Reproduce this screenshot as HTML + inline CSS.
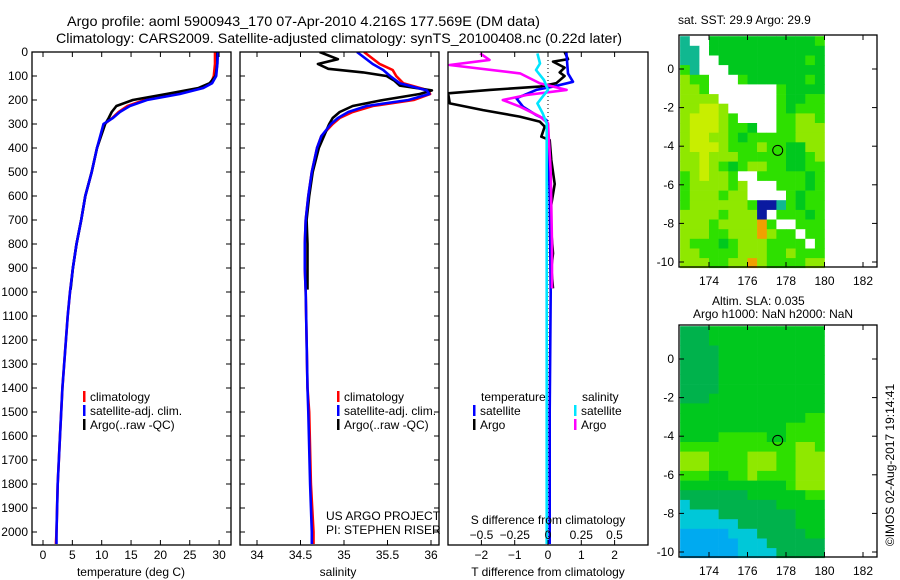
<!DOCTYPE html>
<html><head><meta charset="utf-8"><style>
body{margin:0;background:#fff;}
svg{display:block;font-family:"Liberation Sans",sans-serif;}
text{fill:#000;}
</style></head><body>
<svg id="fig" width="900" height="580" viewBox="0 0 900 580" xmlns="http://www.w3.org/2000/svg">
<text x="67" y="26" font-size="14" textLength="473" lengthAdjust="spacingAndGlyphs">Argo profile: aoml 5900943_170 07-Apr-2010 4.216S 177.569E (DM data)</text>
<text x="56" y="43" font-size="14" textLength="566" lengthAdjust="spacingAndGlyphs">Climatology: CARS2009. Satellite-adjusted climatology: synTS_20100408.nc (0.22d later)</text>
<g id="p1"></g>
<g id="p2"></g>
<g id="p3"></g>
<g id="m1"></g>
<g id="m2"></g>
<text x="678" y="24" font-size="12">sat. SST: 29.9 Argo: 29.9</text>
<text x="712" y="305" font-size="12">Altim. SLA: 0.035</text>
<text x="693" y="318" font-size="12">Argo h1000: NaN h2000: NaN</text>
<text transform="translate(894,465) rotate(-90)" text-anchor="middle" font-size="12">©IMOS 02-Aug-2017 19:14:41</text>
</svg>
<script>
// ---- data ----
const tClimDepth=[0,50,100,130,150,175,200,225,250,275,300,400,500,600,700,800,900,1000,1100,1400,1600,1800,2000,2050];
const tClimVal=[29.3,29.3,29.1,28.6,27.0,22.8,17.3,14.4,12.9,11.8,10.5,9.2,8.3,7.2,6.5,5.7,5.1,4.6,4.2,3.3,2.9,2.5,2.3,2.2];
const tSatVal=[29.8,29.7,29.5,28.8,27.3,23.3,17.7,14.8,13.1,11.9,10.3,9.2,8.3,7.2,6.5,5.7,5.1,4.6,4.2,3.3,2.9,2.5,2.3,2.3];
const tArgoDepth=[0,50,100,130,150,175,200,225,250,275,300,400,500,600,700,800,900,990];
const tArgoVal=[29.7,29.7,29.4,28.4,26.5,21.0,15.3,12.5,11.7,11.2,10.6,9.2,8.3,7.2,6.5,5.7,5.1,4.7];
const sClimDepth=[0,50,75,100,130,160,175,200,225,250,275,300,350,400,500,600,700,800,900,1000,1400,1500,1800,2000,2050];
const sClimVal=[35.23,35.41,35.56,35.6,35.68,35.97,35.99,35.8,35.33,35.1,34.95,34.87,34.74,34.69,34.63,34.59,34.56,34.55,34.55,34.56,34.58,34.6,34.62,34.65,34.65];
const sSatVal=[35.15,35.33,35.45,35.53,35.64,35.95,35.98,35.74,35.26,35.05,34.93,34.85,34.74,34.69,34.63,34.59,34.56,34.55,34.55,34.56,34.58,34.59,34.61,34.63,34.63];
const sArgoDepth=[0,30,50,70,85,100,120,140,160,175,200,225,250,275,300,400,500,600,700,800,990];
const sArgoVal=[34.72,34.93,34.7,34.82,35.22,35.49,35.58,35.64,36.01,35.87,35.45,35.1,34.95,34.87,34.83,34.71,34.64,34.6,34.57,34.58,34.58];
const dTArgoDepth=[0,30,40,65,85,100,130,144,158,172,214,242,269,290,311,353,367,450,550,650,750,839,900,985];
const dTArgoVal=[0.5,0.6,0.15,0.5,0.35,0.5,0.25,-0.25,-1.75,-3,-2.95,-1.95,-0.85,-0.25,-0.1,-0.2,0.05,0.1,0.2,0.08,0.1,0.15,0.1,0.15];
const dTSatDepth=[0,89,124,144,158,193,228,263,283,304,600,1000,1500,2050];
const dTSatVal=[0.55,0.6,0.75,0.15,-0.35,-0.95,-0.75,-0.35,-0.05,0.0,0.05,0.08,0.05,0.05];
const dSArgoDepth=[6,33,54,89,131,158,179,200,228,269,297,500,800,985];
const dSArgoVal=[-0.51,-0.44,-0.74,-0.21,-0.06,0.14,-0.16,-0.34,-0.21,-0.06,0.0,0.02,0.03,0.03];
const dSSatDepth=[6,48,75,117,158,186,214,256,297,600,1000,1500,2050];
const dSSatVal=[-0.08,-0.06,-0.09,-0.03,0.0,-0.04,-0.08,-0.04,-0.01,-0.01,-0.01,-0.01,-0.01];
const depthTicks=[0,100,200,300,400,500,600,700,800,900,1000,1100,1200,1300,1400,1500,1600,1700,1800,1900,2000];
const tempTicks=[0,5,10,15,20,25,30];
const salTicks=[34,34.5,35,35.5,36];
const dTTicks=[-2,-1,0,1,2];
const dSTicks=[-0.5,-0.25,0,0.25,0.5];
const latTicks=[0,-2,-4,-6,-8,-10];
const lonTicks=[174,176,178,180,182];
const sstGrid=[
"TWWGGGGGGGGGGGg","TTWGGGGGGGGGGGG","TTWWGGGGGGGGGgG","gTWWWGGGGGGGGGG",
"yggWWWgGGGGGGgG","yygWWWWWWWgGGGG","yyyyWWWWWWgGGgg","yyYYyWWWWWgGggg",
"yYYYygWWWWggyyg","yYYYyggGWWggyyy","yYYyygGgggggyyy","yYYYygggyggGGyy",
"yyYyyygggggGGgy","yyYygGgyyggGGgg","gyYyygWWgggggGg","gyyyygyWWWgggGg",
"gyyygyyWWWWgGgg","gyyyyyygBBTgGgg","yyyygyyyBWgggGg","yyygyyyyogWWggg",
"yyyggyyyoyggWgg","ygggGgyyyggggWg","yyggggyyyggyggg","yyyggyyoyggggyy"];
const slaGrid=[
"DDDGGGGGGGGGGGG","DDDGGGGGGGGGGGG","DDDDGGGGGGGGGGG","DDDDGGGGGGGGGGG",
"DDDDGGGGGGGGGGG","DDDDGGGGGGGGGGG","DDDDGGGGGGGGGGG","DDDGGGGGGGGGGGG",
"GGGGGGGGGGGGGGG","GGGGGGGGGGGGGgg","GGGGGGGGGGGgggg","GGGGgggggGGgggg",
"ggggggggggggyyg","yyyggggyyyggyyy","yyyggggyyyggyyy","gggGGggyggggyyy",
"GGGGGGGGGGGgyyy","DDDDDDDGGGGGGgg","cDDDDDDDDDGGGGG","ccccDDDDDDDDGGG",
"ccccccDDDDDDGGG","bbbbbcccDDDDDGG","bbbbbbcccDDDDDD","bbbbbbccccDDDDD"];
const floatLon=177.569, floatLat=-4.216;

// ---- helpers ----
const NS="http://www.w3.org/2000/svg";
function mk(parent,tag,attrs){const e=document.createElementNS(NS,tag);for(const k in attrs)e.setAttribute(k,attrs[k]);parent.appendChild(e);return e;}
const top0=52, bot=545;
const yD=d=>top0+0.24*d;
const xT=v=>43+5.87*v;
const xS=v=>257+87*(v-34);
const xdT=v=>548+33.3*v;
const xdS=v=>548+133*v;

function frame(g,x0,x1,name){
  const r=mk(g,'rect',{x:x0,y:top0,width:x1-x0,height:bot-top0,fill:'none',stroke:'#000','stroke-width':1.3});
  
  
  depthTicks.forEach(d=>{
    mk(g,'line',{x1:x0,x2:x0+5,y1:yD(d),y2:yD(d),stroke:'#000'});
    mk(g,'line',{x1:x1,x2:x1-5,y1:yD(d),y2:yD(d),stroke:'#000'});
  });
}
function xticks(g,ticks,fx,labels,ly){
  ticks.forEach((t,i)=>{
    mk(g,'line',{x1:fx(t),x2:fx(t),y1:top0,y2:top0+5,stroke:'#000'});
    mk(g,'line',{x1:fx(t),x2:fx(t),y1:bot,y2:bot-5,stroke:'#000'});
    if(labels){const tx=mk(g,'text',{x:fx(t),y:ly,'text-anchor':'middle','font-size':12});tx.textContent=labels[i];
      
      }
  });
}
function line(g,depths,vals,fx,color,name,w){
  const pts=depths.map((d,i)=>fx(vals[i]).toFixed(1)+','+yD(d).toFixed(1)).join(' ');
  const p=mk(g,'polyline',{points:pts,fill:'none',stroke:color,'stroke-width':w||2.6,'stroke-linejoin':'round'});
  
  
}
function txt(g,x,y,s,name,anchor){
  const t=mk(g,'text',{x:x,y:y,'font-size':12,'text-anchor':anchor||'start'});t.textContent=s;
  
  
  return t;
}
function legend(g,x,y,color,label,name){
  mk(g,'rect',{x:x,y:y-10,width:2.5,height:11,fill:color});
  txt(g,x+7,y,label,name);
}

// ---- panel 1 ----
const p1=document.getElementById('p1');
const clipDefs=mk(document.getElementById('fig'),'defs',{});
function clip(id,x0,x1,y0,y1){const c=mk(clipDefs,'clipPath',{id:id});mk(c,'rect',{x:x0,y:y0,width:x1-x0,height:y1-y0});}
clip('c1',32,231,top0,bot);clip('c2',240,439,top0,bot);clip('c3',448,648,top0,bot);
const g1=mk(p1,'g',{'clip-path':'url(#c1)'});
line(g1,tClimDepth,tClimVal,xT,'#ff0000','temp-climatology-line');
line(g1,tArgoDepth,tArgoVal,xT,'#000000','temp-argo-line');
line(g1,tClimDepth,tSatVal,xT,'#0000ff','temp-satellite-line');
frame(p1,32,231,'temperature-frame');
xticks(p1,tempTicks,xT,tempTicks.map(String),559);
depthTicks.forEach(d=>{txt(p1,28,yD(d)+4,String(d),'depth-tick-label','end');});
txt(p1,131,576,'temperature (deg C)','x-axis-title-temperature','middle');
legend(p1,83,401,'#ff0000','climatology','legend-climatology');
legend(p1,83,415,'#0000ff','satellite-adj. clim.','legend-satellite');
legend(p1,83,429,'#000000','Argo(..raw -QC)','legend-argo');

// ---- panel 2 ----
const p2=document.getElementById('p2');
const g2=mk(p2,'g',{'clip-path':'url(#c2)'});
line(g2,sClimDepth,sClimVal,xS,'#ff0000','sal-climatology-line');
line(g2,sArgoDepth,sArgoVal,xS,'#000000','sal-argo-line');
line(g2,sClimDepth,sSatVal,xS,'#0000ff','sal-satellite-line');
frame(p2,240,439,'salinity-frame');
xticks(p2,salTicks,xS,['34','34.5','35','35.5','36'],559);
txt(p2,338,576,'salinity','x-axis-title-salinity','middle');
legend(p2,337,401,'#ff0000','climatology','legend-climatology-2');
legend(p2,337,415,'#0000ff','satellite-adj. clim.','legend-satellite-2');
legend(p2,337,429,'#000000','Argo(..raw -QC)','legend-argo-2');
txt(p2,326,520,'US ARGO PROJECT','project-credit');
txt(p2,326,534,'PI: STEPHEN RISER','pi-credit');

// ---- panel 3 ----
const p3=document.getElementById('p3');
mk(p3,'line',{x1:548,x2:548,y1:top0,y2:bot,stroke:'#000','stroke-dasharray':'1,3'});
const g3=mk(p3,'g',{'clip-path':'url(#c3)'});
line(g3,dTArgoDepth,dTArgoVal,xdT,'#000000','dt-argo-line');
line(g3,dTSatDepth,dTSatVal,xdT,'#0000ff','dt-satellite-line');
line(g3,dSArgoDepth,dSArgoVal,xdS,'#ff00ff','ds-argo-line');
line(g3,dSSatDepth,dSSatVal,xdS,'#00e5ff','ds-satellite-line');
mk(p3,'rect',{x:448,y:top0,width:200,height:bot-top0,fill:'none',stroke:'#000','stroke-width':1.3});
xticks(p3,dTTicks,xdT,dTTicks.map(v=>v<0?'\u2212'+(-v):String(v)),559);
txt(p3,548,576,'T difference from climatology','x-axis-title-dt','middle');
txt(p3,548,524,'S difference from climatology','s-axis-title','middle');
dSTicks.forEach(v=>{txt(p3,xdS(v),539,v<0?'\u2212'+(-v):String(v),'s-tick-label','middle');});
txt(p3,481,401,'temperature','legend-temperature-heading');
txt(p3,582,401,'salinity','legend-salinity-heading');
legend(p3,473,415,'#0000ff','satellite','legend-t-satellite');
legend(p3,473,429,'#000000','Argo','legend-t-argo');
legend(p3,574,415,'#00e5ff','satellite','legend-s-satellite');
legend(p3,574,429,'#ff00ff','Argo','legend-s-argo');

// ---- maps ----
const palette={G:'#00c81e',g:'#2ee000',y:'#8fe800',Y:'#c8ee00',W:'#ffffff',T:'#10b890',B:'#0a1aa0',o:'#f0a000',D:'#00b24c',c:'#00c8d8',b:'#00aaf0'};
function map(id,grid,y0,lat0y){
  const g=document.getElementById(id);
  const xL=lon=>709+19.25*(lon-174);
  const yL=lat=>lat0y-19.3*lat;
  grid.forEach((row,r)=>{
    for(let c=0;c<row.length;c++){
      const lon=172.5+0.5*c, lat=1.7-0.5*r;
      const x0=xL(lon), y=yL(lat);
      const cell=mk(g,'rect',{x:x0.toFixed(1),y:y.toFixed(1),width:9.9,height:10,fill:palette[row[c]]});
      
      
    }
  });
  const fr=mk(g,'rect',{x:679,y:y0,width:198,height:232,fill:'none',stroke:'#000','stroke-width':1.3});
  
  
  latTicks.forEach(l=>{
    mk(g,'line',{x1:679,x2:684,y1:yL(l),y2:yL(l),stroke:'#000'});
    mk(g,'line',{x1:877,x2:872,y1:yL(l),y2:yL(l),stroke:'#000'});
    txt(g,674,yL(l)+4,l<0?'-'+(-l):String(l),'lat-tick-label','end');
  });
  lonTicks.forEach(l=>{
    mk(g,'line',{x1:xL(l),x2:xL(l),y1:y0,y2:y0+5,stroke:'#000'});
    mk(g,'line',{x1:xL(l),x2:xL(l),y1:y0+232,y2:y0+227,stroke:'#000'});
    txt(g,xL(l),y0+250,String(l),'lon-tick-label','middle');
  });
  const m=mk(g,'circle',{cx:xL(floatLon),cy:yL(floatLat),r:5,fill:'none',stroke:'#000','stroke-width':1});
  
  
}
map('m1',sstGrid,35,69);
map('m2',slaGrid,325,359);
</script>
</body></html>
